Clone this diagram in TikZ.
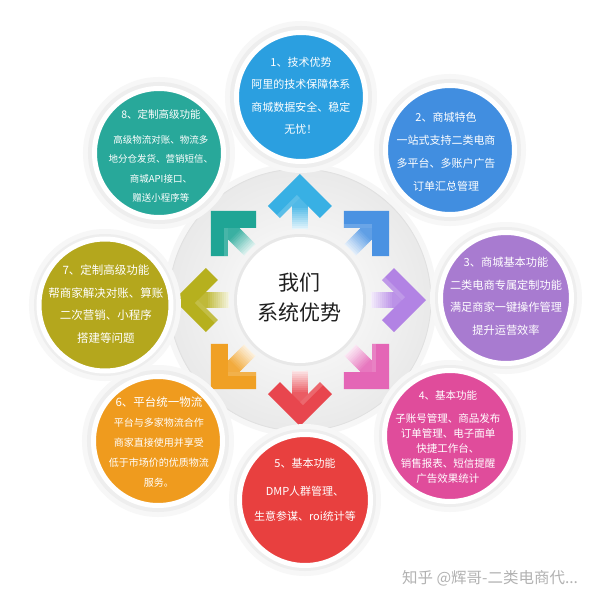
\documentclass[tikz,border=0pt]{standalone}
\usepackage{fontspec}
\newfontfamily\cjk{Noto Sans CJK SC}
\definecolor{c1}{HTML}{2B9FE0}
\definecolor{c2}{HTML}{418EE0}
\definecolor{c3}{HTML}{A87BD0}
\definecolor{c4}{HTML}{E04C9B}
\definecolor{c5}{HTML}{E8403F}
\definecolor{c6}{HTML}{EF9B1E}
\definecolor{c7}{HTML}{B4A71D}
\definecolor{c8}{HTML}{28A89A}
\definecolor{a1}{HTML}{38B0E4}
\definecolor{a2}{HTML}{4A92E2}
\definecolor{a3}{HTML}{B283E4}
\definecolor{a4}{HTML}{E466B6}
\definecolor{a5}{HTML}{E8464E}
\definecolor{a6}{HTML}{F0A024}
\definecolor{a7}{HTML}{B6B01E}
\definecolor{a8}{HTML}{1FA595}
\tikzset{
  bub/.style={circle, draw=white, line width=5pt, inner sep=0pt, minimum size=#1},
  btxt/.style={text=white, align=center, inner sep=0pt},
  halo/.style={fill=gray!13},
  halo2/.style={fill=gray!6},
}
\begin{document}
\begin{tikzpicture}[x=1pt,y=1pt]
\useasboundingbox (-300,-300) rectangle (300,300);
\fill[white] (-300,-300) rectangle (300,300);
% central disk
\fill[gray!7] (0,0) circle (137);
\shade[inner color=white, outer color=gray!17] (0,0) circle (131);
\draw[gray!24, line width=0.8pt] (0,0) circle (131);
% arrows
\foreach \a/\c in {90/a1,45/a2,0/a3,-45/a4,-90/a5,-135/a6,180/a7,135/a8}{
  \begin{scope}[rotate=\a]
    \foreach \i in {0,...,13}{
      \pgfmathtruncatemacro\pc{\i*88/13}
      \pgfmathsetmacro\xa{66+2*\i}
      \fill[\c!\pc!white] (\xa,-8) rectangle (\xa+2.4,8);
    }
    \fill[\c!88!white] (93,-8) rectangle (106,8);
    \fill[\c] (126,0) -- (94,32) -- (82,20) -- (102,0) -- (82,-20) -- (94,-32) -- cycle;
    \fill[white, opacity=0.18] (102,0) -- (82,20) -- (85,23) -- (105,3) -- cycle;
  \end{scope}
}
% hub
\fill[gray!9] (0,0) circle (71);
\fill[gray!18] (0,0) circle (66);
\node[circle, fill=white, inner sep=0pt, minimum size=126pt] (hub) at (0,0) {};
\node[align=center, inner sep=0pt, text=black!88, font=\cjk\fontsize{21}{30}\selectfont] (ht) at (0,2) {我们\\系统优势};
% bubble positions
\coordinate (p1) at (1,203);
\coordinate (p2) at (150,150);
\coordinate (p3) at (206,2);
\coordinate (p4) at (150,-136);
\coordinate (p5) at (5,-200);
\coordinate (p6) at (-142,-141);
\coordinate (p7) at (-195,-5);
\coordinate (p8) at (-141,147);
\foreach \p in {p1,p2,p3,p4,p5,p6,p7,p8}{
  \fill[halo2] (\p) circle (76);
  \fill[halo] (\p) circle (71);
}
\node[bub=129pt, fill=c1] (b1) at (p1) {};
\node[bub=129pt, fill=c2] (b2) at (p2) {};
\node[bub=131pt, fill=c3] (b3) at (p3) {};
\node[bub=131pt, fill=c4] (b4) at (p4) {};
\node[bub=131pt, fill=c5] (b5) at (p5) {};
\node[bub=129pt, fill=c6] (b6) at (p6) {};
\node[bub=132pt, fill=c7] (b7) at (p7) {};
\node[bub=129pt, fill=c8] (b8) at (p8) {};
% texts
\node[btxt, font=\cjk\fontsize{11}{22.5}\selectfont] (t1) at (1,204)
  {1、技术优势\\阿里的技术保障体系\\商城数据安全、稳定\\无忧！};
\node[btxt, font=\cjk\fontsize{11}{23}\selectfont] (t2) at (146,148)
  {2、商城特色\\一站式支持二类电商\\多平台、多账户广告\\订单汇总管理};
\node[btxt, font=\cjk\fontsize{11.2}{22.5}\selectfont] (t3) at (206,4)
  {3、商城基本功能\\二类电商专属定制功能\\满足商家一键操作管理\\提升运营效率};
\node[btxt, font=\cjk\fontsize{10.5}{15}\selectfont] (t4) at (148,-137)
  {4、基本功能\\[8pt]子账号管理、商品发布\\订单管理、电子面单\\快捷工作台、\\销售报表、短信提醒\\广告效果统计};
\node[btxt, font=\cjk\fontsize{11}{25}\selectfont] (t5) at (5,-190)
  {5、基本功能\\[3pt]DMP人群管理、\\生意参谋、roi统计等};
\node[btxt, font=\cjk\fontsize{10}{20}\selectfont] (t6) at (-141,-142)
  {{\fontsize{11.5}{20}\selectfont 6、平台统一物流}\\平台与多家物流合作\\商家直接使用并享受\\低于市场价的优质物流\\服务。};
\node[btxt, font=\cjk\fontsize{11.5}{22.5}\selectfont] (t7) at (-194,-4)
  {7、定制高级功能\\帮商家解决对账、算账\\二次营销、小程序\\搭建等问题};
\node[btxt, font=\cjk\fontsize{9.5}{19.5}\selectfont] (t8) at (-139,144)
  {{\fontsize{10.5}{19.5}\selectfont 8、定制高级功能}\\[5pt]高级物流对账、物流多\\地分仓发货、营销短信、\\商城API接口、\\赠送小程序等};
% watermark
\node[text=gray!60, inner sep=0pt, font=\cjk\fontsize{15.5}{17}\selectfont] (wm) at (190,-278) {知乎 @辉哥-二类电商代...};
\end{tikzpicture}
\end{document}
